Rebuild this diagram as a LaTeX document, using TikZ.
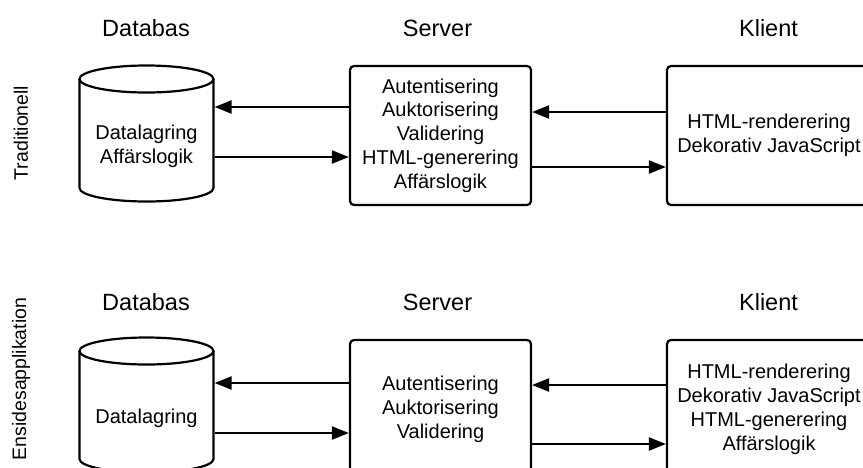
\documentclass[tikz,border=0pt]{standalone}
\usepackage{fontspec}
\setmainfont{Liberation Sans}
\usetikzlibrary{arrows.meta}

\tikzset{
  outline/.style={line width=2.2pt, draw=black},
  procbox/.style={outline, rectangle, rounded corners=4pt, fill=white,
    align=center, inner sep=0pt, font=\fontsize{20}{23.8}\selectfont},
  bodytext/.style={align=center, inner sep=0pt, font=\fontsize{20}{23.8}\selectfont},
  title/.style={anchor=base, inner sep=0pt, font=\fontsize{23.5}{28}\selectfont},
  rowlabel/.style={rotate=90, inner sep=0pt, font=\fontsize{19.5}{23.7}\selectfont},
  anchorbox/.style={rectangle, draw=none, inner sep=0pt, outer sep=1.1pt},
  flow/.style={line width=2.2pt, -{Triangle[length=17pt,width=13pt]}}
}

\begin{document}
\begin{tikzpicture}[x=1pt, y=-1pt]
  \useasboundingbox (0,0) rectangle (863,467);
  \clip (0,0) rectangle (863,467);

  % ---------- row labels ----------
  \node[rowlabel] (lab1) at (21,133) {Traditionell};
  \node[rowlabel] (lab2) at (21,379) {Ensidesapplikation};

  % ---------- column titles ----------
  \node[title] (t1db)  at (146,36.5)  {Databas};
  \node[title] (t1srv) at (437.5,36.5) {Server};
  \node[title] (t1cli) at (768.5,36.5) {Klient};
  \node[title] (t2db)  at (146,310.5)  {Databas};
  \node[title] (t2srv) at (437.5,310.5) {Server};
  \node[title] (t2cli) at (768.5,310.5) {Klient};

  % ---------- traditional row ----------
  % database cylinder
  \draw[outline, fill=white] (79.5,79) -- (79.5,188)
    arc[start angle=180, end angle=360, x radius=67pt, y radius=13.5pt]
    -- (213.5,79);
  \draw[outline] (146.5,79) ellipse[x radius=67pt, y radius=13.5pt];
  \node[anchorbox, minimum width=134pt, minimum height=109pt] (db1) at (146.5,133.5) {};
  \node[bodytext] (db1txt) at (146.5,146.5) {Datalagring\\Affärslogik};

  \node[procbox, minimum width=181pt, minimum height=139pt] (srv1) at (440.5,135.5)
    {Autentisering\\Auktorisering\\Validering\\HTML-generering\\Affärslogik};
  \node[procbox, minimum width=204pt, minimum height=139pt] (cli1) at (769,135.5)
    {HTML-renderering\\Dekorativ JavaScript};

  \draw[flow] ([yshift=28.5pt]srv1.west) -- ([yshift=26.5pt]db1.east);
  \draw[flow] ([yshift=-23.5pt]db1.east) -- ([yshift=-21.5pt]srv1.west);
  \draw[flow] ([yshift=23.5pt]cli1.west) -- ([yshift=23.5pt]srv1.east);
  \draw[flow] ([yshift=-31.5pt]srv1.east) -- ([yshift=-31.5pt]cli1.west);

  % ---------- single-page application row ----------
  \draw[outline, fill=white] (79.5,351) -- (79.5,459)
    arc[start angle=180, end angle=360, x radius=67pt, y radius=13.5pt]
    -- (213.5,351);
  \draw[outline] (146.5,351) ellipse[x radius=67pt, y radius=13.5pt];
  \node[anchorbox, minimum width=134pt, minimum height=108pt] (db2) at (146.5,405) {};
  \node[bodytext] (db2txt) at (146.5,418) {Datalagring};

  \node[procbox, minimum width=181pt, minimum height=139pt] (srv2) at (440.5,409.5)
    {Autentisering\\Auktorisering\\Validering};
  \node[procbox, minimum width=204pt, minimum height=139pt] (cli2) at (769,409.5)
    {HTML-renderering\\Dekorativ JavaScript\\HTML-generering\\Affärslogik};

  \draw[flow] ([yshift=26.5pt]srv2.west) -- ([yshift=22pt]db2.east);
  \draw[flow] ([yshift=-28pt]db2.east) -- ([yshift=-23.5pt]srv2.west);
  \draw[flow] ([yshift=24.5pt]cli2.west) -- ([yshift=24.5pt]srv2.east);
  \draw[flow] ([yshift=-34.5pt]srv2.east) -- ([yshift=-34.5pt]cli2.west);
\end{tikzpicture}
\end{document}
